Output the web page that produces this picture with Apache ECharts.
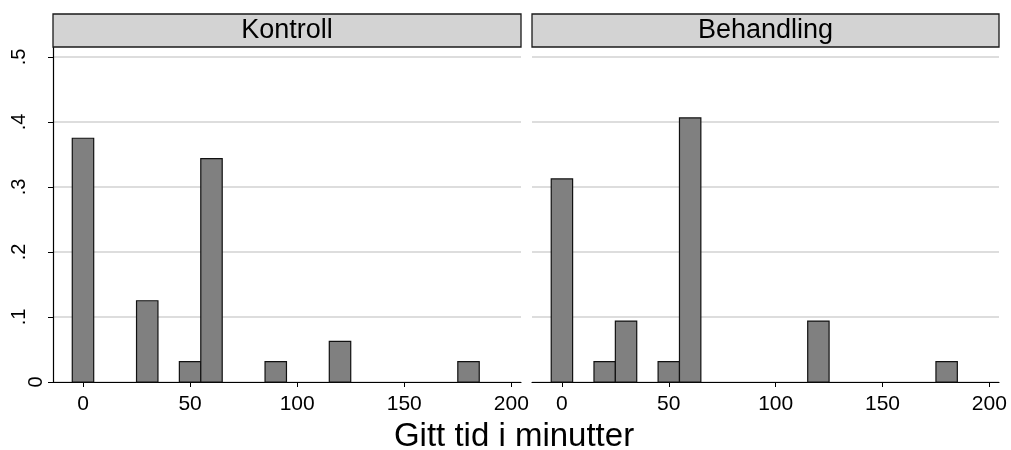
<!DOCTYPE html>
<html>
<head>
<meta charset="utf-8">
<script src="https://cdn.jsdelivr.net/npm/echarts@6/dist/echarts.min.js"></script>
<style>
html,body{margin:0;padding:0;background:#fff;}
#chart{width:1011px;height:450px;}
</style>
</head>
<body>
<div id="chart"></div>
<script>
// ---- data ----
const panels = ['Kontroll', 'Behandling'];
const kontrollMinutes = [0, 30, 50, 60, 90, 120, 180];
const kontrollFraction = [0.375, 0.125, 0.03125, 0.34375, 0.03125, 0.0625, 0.03125];
const behandlingMinutes = [0, 20, 30, 50, 60, 120, 180];
const behandlingFraction = [0.3125, 0.03125, 0.09375, 0.03125, 0.40625, 0.09375, 0.03125];
const binWidth = 10;
const xTicks = [0, 50, 100, 150, 200];
const yTicks = [0, 0.1, 0.2, 0.3, 0.4, 0.5];
const yTickLabels = ['0', '.1', '.2', '.3', '.4', '.5'];
const xTitle = 'Gitt tid i minutter';

// ---- layout ----
const FONT = "'Liberation Sans', Arial, Helvetica, sans-serif";
const gridTop = 47, gridBottom = 68;
const gridsPos = [{left: 53, width: 468}, {left: 532, width: 467}];
const X_MIN = -14, X_MAX = 204.5;
const Y_MAX = 0.5154;

const chart = echarts.init(document.getElementById('chart'), null, {renderer: 'canvas'});

function renderItem(params, api) {
  const x = api.value(0), y = api.value(1);
  const p0 = api.coord([x - binWidth / 2, y]);
  const p1 = api.coord([x + binWidth / 2, 0]);
  return {
    type: 'rect',
    shape: {x: p0[0], y: p0[1], width: p1[0] - p0[0], height: p1[1] - p0[1]},
    style: {fill: '#808080', stroke: '#111111', lineWidth: 1.2}
  };
}

const seriesData = [
  kontrollMinutes.map((m, i) => [m, kontrollFraction[i]]),
  behandlingMinutes.map((m, i) => [m, behandlingFraction[i]])
];

const grids = gridsPos.map(g => ({left: g.left, width: g.width, top: gridTop, bottom: gridBottom, containLabel: false}));

const xAxes = gridsPos.map((g, i) => ({
  type: 'value', gridIndex: i, min: X_MIN, max: X_MAX,
  axisLine: {show: true, onZero: false, lineStyle: {color: '#000', width: 1.2}},
  axisTick: {show: true, length: 5, customValues: xTicks, lineStyle: {color: '#000', width: 1}},
  axisLabel: {show: true, customValues: xTicks, margin: 12, fontSize: 21, color: '#000', fontFamily: FONT},
  splitLine: {show: false}
}));

const yAxes = gridsPos.map((g, i) => ({
  type: 'value', gridIndex: i, min: 0, max: Y_MAX,
  axisLine: {show: i === 0, onZero: false, lineStyle: {color: '#000', width: 1.2}},
  axisTick: {show: i === 0, length: 5, customValues: yTicks, lineStyle: {color: '#000', width: 1}},
  axisLabel: {
    show: i === 0, customValues: yTicks, rotate: 90, margin: 7,
    fontSize: 20, color: '#000', fontFamily: FONT,
    formatter: function (v) {
      const k = yTicks.findIndex(t => Math.abs(t - v) < 1e-9);
      const lab = k >= 0 ? yTickLabels[k] : '';
      return v === 0 ? '{z|' + lab + '}' : '{d|' + lab + '}';
    },
    rich: {
      z: {fontSize: 20, fontFamily: FONT, color: '#000'},
      d: {fontSize: 20, fontFamily: FONT, color: '#000', padding: [0, 0, 17, 0]}
    }
  },
  splitLine: {show: true, lineStyle: {color: '#d2d2d2', width: 1.5}}
}));

const series = seriesData.map((d, i) => ({
  type: 'custom', xAxisIndex: i, yAxisIndex: i,
  renderItem: renderItem, data: d, z: 5
}));

const graphics = [];
gridsPos.forEach((g, i) => {
  graphics.push({
    type: 'rect', z: 100,
    shape: {x: g.left, y: 14, width: g.width, height: 33},
    style: {fill: '#d3d3d3', stroke: '#1a1a1a', lineWidth: 1.3}
  });
  graphics.push({
    type: 'text', z: 101,
    x: g.left + g.width / 2, y: 31,
    style: {text: panels[i], fontSize: 27, fontFamily: FONT, fill: '#000', textAlign: 'center', textVerticalAlign: 'middle'}
  });
});
graphics.push({
  type: 'text', z: 101, x: 514, y: 437,
  style: {text: xTitle, fontSize: 33, fontFamily: FONT, fill: '#000', textAlign: 'center', textVerticalAlign: 'middle'}
});

chart.setOption({
  animation: false,
  backgroundColor: '#ffffff',
  grid: grids,
  xAxis: xAxes,
  yAxis: yAxes,
  series: series,
  graphic: graphics
});
</script>
</body>
</html>
